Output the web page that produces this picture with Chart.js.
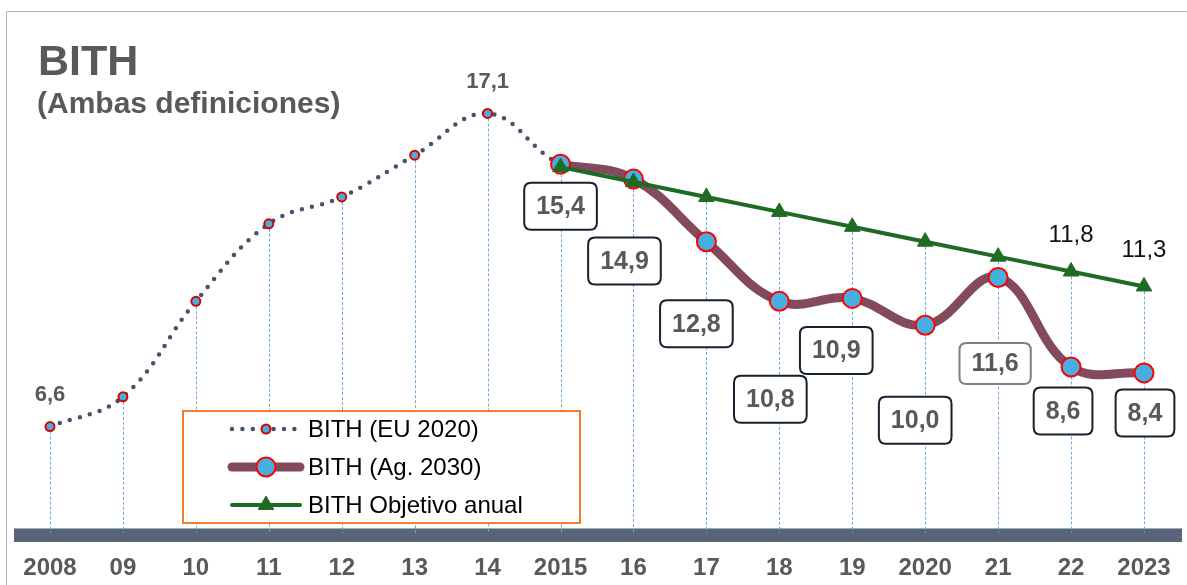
<!DOCTYPE html>
<html>
<head>
<meta charset="utf-8">
<script src="https://cdn.jsdelivr.net/npm/chart.js@4.4.1/dist/chart.umd.min.js"></script>
<style>
    html, body { margin: 0; padding: 0; background: #fff; overflow: hidden; }
    #wrap { position: relative; width: 1187px; height: 585px; overflow: hidden; font-family: "Liberation Sans", Arial, sans-serif; }
    #frame { position: absolute; left: 6px; top: 11px; width: 1300px; height: 700px; border: 1.5px solid #b4b4b4; }
    #title { position: absolute; left: 38px; top: 39px; font-size: 43px; font-weight: bold; color: #595959; line-height: 1; }
    #subtitle { position: absolute; left: 37px; top: 88px; font-size: 30px; font-weight: bold; color: #595959; line-height: 1; }
    canvas { position: absolute; left: 0; top: 0; }
</style>
</head>
<body>
<div id="wrap">
    <div id="frame"></div>
    <canvas id="chart" width="1187" height="585"></canvas>
    <div id="title">BITH</div>
    <div id="subtitle">(Ambas definiciones)</div>
</div>
<script>
// Years on the x axis
const years = ['2008', '09', '10', '11', '12', '13', '14', '2015', '16', '17', '18', '19', '2020', '21', '22', '2023'];

// BITH series
const eu2020 = [6.6, 7.6, 10.8, 13.4, 14.3, 15.7, 17.1, 15.4, 14.9, 12.8, 10.8, 10.9, 10.0, 11.6, 8.6, 8.4];
const ag2030 = [null, null, null, null, null, null, null, 15.4, 14.9, 12.8, 10.8, 10.9, 10.0, 11.6, 8.6, 8.4];
const objetivo = [null, null, null, null, null, null, null, 15.3, 14.8, 14.3, 13.8, 13.3, 12.8, 12.3, 11.8, 11.3];

// Which values get a plain text label
const euLabelIdx = [0, 6];
const objLabelIdx = [14, 15];

// Offsets of the boxed labels for the Ag. 2030 points (from index 7 on)
const agBoxOffsets = [[0, 42], [-9, 82], [-10, 82], [-9, 98], [-16, 52], [-10, 95], [-3, 86], [-8, 44], [1, 40]];

const FONT = '"Liberation Sans", Arial, sans-serif';
const GREY_TXT = '#595959';

const fmt = v => v.toFixed(1).replace('.', ',');

// Band under the plot + dotted guides from each point down to it
const guidesPlugin = {
    id: 'guides',
    beforeDatasetsDraw(chart) {
        const { ctx, chartArea, scales } = chart;
        ctx.save();
        ctx.fillStyle = '#586578';
        ctx.fillRect(14, chartArea.bottom, 1168, 14);
        ctx.fillStyle = '#a4acb6';
        ctx.fillRect(14, chartArea.bottom, 1168, 1);

        ctx.strokeStyle = '#6fa8dc';
        ctx.lineWidth = 1;
        ctx.setLineDash([3, 2]);
        years.forEach((_, i) => {
            const vals = [eu2020[i], ag2030[i], objetivo[i]].filter(v => v !== null);
            const top = Math.min(...vals.map(v => scales.y.getPixelForValue(v)));
            const x = Math.round(scales.x.getPixelForValue(i)) + 0.5;
            ctx.beginPath();
            ctx.moveTo(x, top);
            ctx.lineTo(x, chartArea.bottom + 5);
            ctx.stroke();
        });
        ctx.restore();
    }
};

function roundRect(ctx, x, y, w, h, r) {
    ctx.beginPath();
    ctx.moveTo(x + r, y);
    ctx.lineTo(x + w - r, y);
    ctx.quadraticCurveTo(x + w, y, x + w, y + r);
    ctx.lineTo(x + w, y + h - r);
    ctx.quadraticCurveTo(x + w, y + h, x + w - r, y + h);
    ctx.lineTo(x + r, y + h);
    ctx.quadraticCurveTo(x, y + h, x, y + h - r);
    ctx.lineTo(x, y + r);
    ctx.quadraticCurveTo(x, y, x + r, y);
    ctx.closePath();
}

// Value labels
const labelsPlugin = {
    id: 'valueLabels',
    afterDatasetsDraw(chart) {
        const { ctx } = chart;
        const euMeta = chart.getDatasetMeta(2);
        const agMeta = chart.getDatasetMeta(1);
        const objMeta = chart.getDatasetMeta(0);
        ctx.save();
        ctx.textAlign = 'center';
        ctx.textBaseline = 'middle';

        ctx.font = 'bold 22px ' + FONT;
        ctx.fillStyle = GREY_TXT;
        euLabelIdx.forEach(i => {
            const p = euMeta.data[i];
            ctx.fillText(fmt(eu2020[i]), p.x, p.y - 32);
        });

        ctx.font = '24px ' + FONT;
        ctx.fillStyle = '#111';
        objLabelIdx.forEach(i => {
            const p = objMeta.data[i];
            ctx.fillText(fmt(objetivo[i]), p.x, p.y - 36);
        });

        ctx.font = 'bold 25px ' + FONT;
        let k = 0;
        ag2030.forEach((v, i) => {
            if (v === null) return;
            const p = agMeta.data[i];
            const [dx, dy] = agBoxOffsets[k++];
            const cx = p.x + dx, cy = p.y + dy;
            const txt = fmt(v);
            const w = ctx.measureText(txt).width + 24;
            const light = years[i] === '21';
            const h = light ? 41 : 47;
            roundRect(ctx, cx - w / 2, cy - h / 2, w, h, 7);
            ctx.fillStyle = '#fff';
            ctx.fill();
            ctx.lineWidth = 2;
            ctx.strokeStyle = light ? '#808080' : '#17202e';
            ctx.stroke();
            ctx.fillStyle = GREY_TXT;
            ctx.fillText(txt, cx, cy + 1);
        });
        ctx.restore();
    }
};

// Legend box
const legendPlugin = {
    id: 'boxLegend',
    afterDraw(chart) {
        const { ctx } = chart;
        const rows = [2, 1, 0];
        ctx.save();
        ctx.fillStyle = '#fff';
        ctx.fillRect(183, 411, 397, 112);
        ctx.strokeStyle = '#ed7d31';
        ctx.lineWidth = 2;
        ctx.strokeRect(183, 411, 397, 112);

        rows.forEach((di, r) => {
            const ds = chart.data.datasets[di];
            const y = 429 + r * 38;
            ctx.save();
            ctx.strokeStyle = ds.borderColor;
            ctx.lineWidth = ds.borderWidth;
            ctx.lineCap = 'round';
            ctx.setLineDash(ds.borderDash || []);
            ctx.beginPath();
            ctx.moveTo(232, y);
            ctx.lineTo(300, y);
            ctx.stroke();
            ctx.restore();

            ctx.save();
            ctx.fillStyle = ds.pointBackgroundColor;
            ctx.strokeStyle = ds.pointBorderColor;
            ctx.lineWidth = ds.pointBorderWidth;
            Chart.helpers.drawPoint(ctx, {
                pointStyle: ds.pointStyle,
                radius: ds.pointRadius,
                rotation: 0,
                borderWidth: ds.pointBorderWidth
            }, 266, y);
            ctx.restore();

            ctx.fillStyle = '#000';
            ctx.font = '24px ' + FONT;
            ctx.textAlign = 'left';
            ctx.textBaseline = 'middle';
            ctx.fillText(ds.label, 308, y + 1);
        });
        ctx.restore();
    }
};

new Chart(document.getElementById('chart'), {
    type: 'line',
    data: {
        labels: years,
        datasets: [
            {
                label: 'BITH Objetivo anual',
                data: objetivo,
                order: 0,
                borderColor: '#1e6b24',
                borderWidth: 4,
                tension: 0,
                pointStyle: 'triangle',
                pointRadius: 9,
                pointBackgroundColor: '#1e6b24',
                pointBorderColor: '#1e6b24',
                pointBorderWidth: 1,
                clip: false
            },
            {
                label: 'BITH (Ag. 2030)',
                data: ag2030,
                order: 1,
                borderColor: '#824a5b',
                borderWidth: 9,
                borderCapStyle: 'round',
                tension: 0.4,
                pointStyle: 'circle',
                pointRadius: 9.5,
                pointBackgroundColor: '#47afe0',
                pointBorderColor: '#ff0000',
                pointBorderWidth: 2,
                clip: false
            },
            {
                label: 'BITH (EU 2020)',
                data: eu2020,
                order: 2,
                borderColor: '#44546a',
                borderWidth: 4.5,
                borderDash: [0, 10.4],
                borderCapStyle: 'round',
                tension: 0.4,
                pointStyle: 'circle',
                pointRadius: 4.5,
                pointBackgroundColor: '#4bacd9',
                pointBorderColor: '#d80000',
                pointBorderWidth: 2,
                clip: false
            }
        ]
    },
    options: {
        responsive: false,
        animation: false,
        devicePixelRatio: 1,
        layout: { padding: { top: 27, left: 50, right: 43, bottom: 0 } },
        plugins: {
            legend: { display: false },
            tooltip: { enabled: false }
        },
        scales: {
            x: {
                grid: { display: false, drawTicks: false },
                border: { display: false },
                ticks: {
                    color: GREY_TXT,
                    font: { family: FONT, size: 24, weight: 'bold' },
                    padding: 26,
                    autoSkip: false,
                    maxRotation: 0
                },
                afterFit(scale) {
                    scale.height = 57;
                    scale.paddingLeft = 0;
                    scale.paddingRight = 0;
                }
            },
            y: { display: false, min: 3.2, max: 20 }
        }
    },
    plugins: [guidesPlugin, labelsPlugin, legendPlugin]
});
</script>
</body>
</html>
